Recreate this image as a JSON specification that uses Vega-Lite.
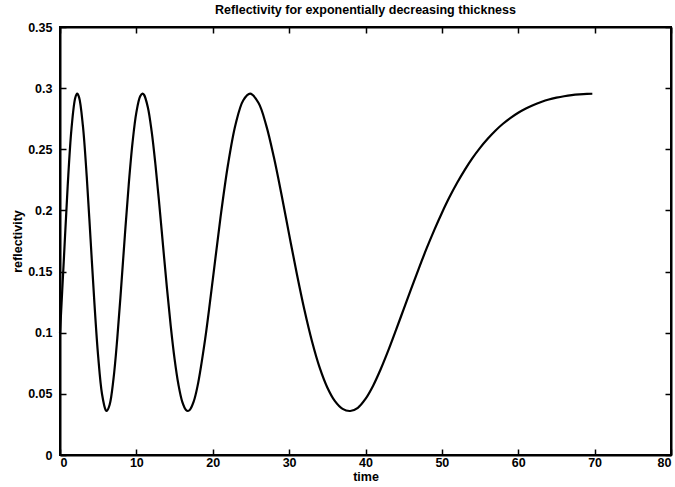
{
  "$schema": "https://vega.github.io/schema/vega-lite/v6.json",
  "width": 611,
  "height": 428,
  "autosize": {"type": "none"},
  "padding": {"left": 60, "top": 27, "right": 4, "bottom": 32},
  "title": {"text": "Reflectivity for exponentially decreasing thickness", "font": "Liberation Sans", "fontSize": 12.5, "fontWeight": "bold", "color": "black", "anchor": "middle", "offset": 5},
  "config": {
    "view": {"stroke": "black", "strokeWidth": 2},
    "axis": {
      "grid": false,
      "domainColor": "black",
      "domainWidth": 2,
      "tickColor": "black",
      "tickWidth": 1.5,
      "tickSize": -6,
      "labelFont": "Liberation Sans",
      "labelFontSize": 12.5,
      "labelFontWeight": "bold",
      "labelColor": "black",
      "titleFont": "Liberation Sans",
      "titleFontSize": 12.5,
      "titleFontWeight": "bold",
      "titleColor": "black"
    }
  },
  "data": {"values": [
    {"t": 0, "r": 0.0997}, {"t": 0.5, "r": 0.1594}, {"t": 1, "r": 0.2193}, {"t": 1.5, "r": 0.2665},
    {"t": 2, "r": 0.2921}, {"t": 2.25, "r": 0.2955}, {"t": 2.5, "r": 0.2925}, {"t": 3, "r": 0.2691}, {"t": 3.5, "r": 0.2278},
    {"t": 4, "r": 0.1766}, {"t": 4.5, "r": 0.1248}, {"t": 5, "r": 0.0804}, {"t": 5.5, "r": 0.0499},
    {"t": 6, "r": 0.0365}, {"t": 6.12, "r": 0.036}, {"t": 6.5, "r": 0.0411}, {"t": 7, "r": 0.062}, {"t": 7.5, "r": 0.0954},
    {"t": 8, "r": 0.1365}, {"t": 8.5, "r": 0.1801}, {"t": 9, "r": 0.2212}, {"t": 9.5, "r": 0.2556},
    {"t": 10, "r": 0.2802}, {"t": 10.5, "r": 0.2934}, {"t": 10.8, "r": 0.2955}, {"t": 11, "r": 0.2946}, {"t": 11.5, "r": 0.2844},
    {"t": 12, "r": 0.2646}, {"t": 12.5, "r": 0.2372}, {"t": 13, "r": 0.205}, {"t": 13.5, "r": 0.1706},
    {"t": 14, "r": 0.1366}, {"t": 14.5, "r": 0.1054}, {"t": 15, "r": 0.0786}, {"t": 15.5, "r": 0.0578},
    {"t": 16, "r": 0.0437}, {"t": 16.5, "r": 0.0368}, {"t": 16.75, "r": 0.036}, {"t": 17, "r": 0.0369}, {"t": 17.5, "r": 0.0436},
    {"t": 18, "r": 0.0561}, {"t": 19, "r": 0.0946}, {"t": 20, "r": 0.1433}, {"t": 21, "r": 0.1935},
    {"t": 22, "r": 0.2376}, {"t": 23, "r": 0.2707}, {"t": 24, "r": 0.2901}, {"t": 24.9, "r": 0.2955}, {"t": 26, "r": 0.2878},
    {"t": 27, "r": 0.2696}, {"t": 28, "r": 0.2436}, {"t": 29, "r": 0.213},
    {"t": 30, "r": 0.1804}, {"t": 31, "r": 0.1484}, {"t": 32, "r": 0.1187}, {"t": 33, "r": 0.0928},
    {"t": 34, "r": 0.0714}, {"t": 35, "r": 0.0552}, {"t": 36, "r": 0.044}, {"t": 37, "r": 0.0377},
    {"t": 38, "r": 0.036}, {"t": 39, "r": 0.0386}, {"t": 40, "r": 0.0459}, {"t": 41, "r": 0.0567},
    {"t": 42, "r": 0.0703}, {"t": 43, "r": 0.0857}, {"t": 44, "r": 0.1023}, {"t": 45, "r": 0.1193},
    {"t": 46, "r": 0.1363}, {"t": 47, "r": 0.1529}, {"t": 48, "r": 0.1689}, {"t": 49, "r": 0.1839},
    {"t": 50, "r": 0.1979}, {"t": 51, "r": 0.2109}, {"t": 52, "r": 0.2226}, {"t": 53, "r": 0.2332},
    {"t": 54, "r": 0.2428}, {"t": 55, "r": 0.2512}, {"t": 56, "r": 0.2586}, {"t": 57, "r": 0.2652},
    {"t": 58, "r": 0.2709}, {"t": 59, "r": 0.2757}, {"t": 60, "r": 0.2799}, {"t": 61, "r": 0.2834},
    {"t": 62, "r": 0.2863}, {"t": 63, "r": 0.2887}, {"t": 64, "r": 0.2907}, {"t": 65, "r": 0.2922},
    {"t": 66, "r": 0.2934}, {"t": 67, "r": 0.2943}, {"t": 68, "r": 0.2949}, {"t": 69, "r": 0.2953},
    {"t": 69.7, "r": 0.2954}
  ]},
  "layer": [
    {
      "mark": {"type": "line", "color": "black", "strokeWidth": 2.2, "interpolate": "catmull-rom"},
      "encoding": {
        "x": {"field": "t", "type": "quantitative", "scale": {"domain": [0, 80], "nice": false, "zero": false},
              "axis": {"orient": "bottom", "values": [0, 10, 20, 30, 40, 50, 60, 70, 80], "title": "time", "labelPadding": 7, "titlePadding": 2}},
        "y": {"field": "r", "type": "quantitative", "scale": {"domain": [0, 0.35], "nice": false, "zero": false},
              "axis": {"orient": "left", "values": [0, 0.05, 0.1, 0.15, 0.2, 0.25, 0.3, 0.35], "format": "~g", "title": "reflectivity", "labelPadding": 14, "titlePadding": 3}}
      }
    },
    {
      "mark": {"type": "line", "opacity": 0},
      "encoding": {
        "x": {"field": "t", "type": "quantitative", "scale": {"domain": [0, 80], "nice": false, "zero": false},
              "axis": {"orient": "top", "values": [0, 10, 20, 30, 40, 50, 60, 70, 80], "labels": false, "title": null}},
        "y": {"field": "r", "type": "quantitative", "scale": {"domain": [0, 0.35], "nice": false, "zero": false},
              "axis": {"orient": "right", "values": [0, 0.05, 0.1, 0.15, 0.2, 0.25, 0.3, 0.35], "labels": false, "title": null}}
      }
    }
  ],
  "resolve": {"scale": {"x": "independent", "y": "independent"}}
}
